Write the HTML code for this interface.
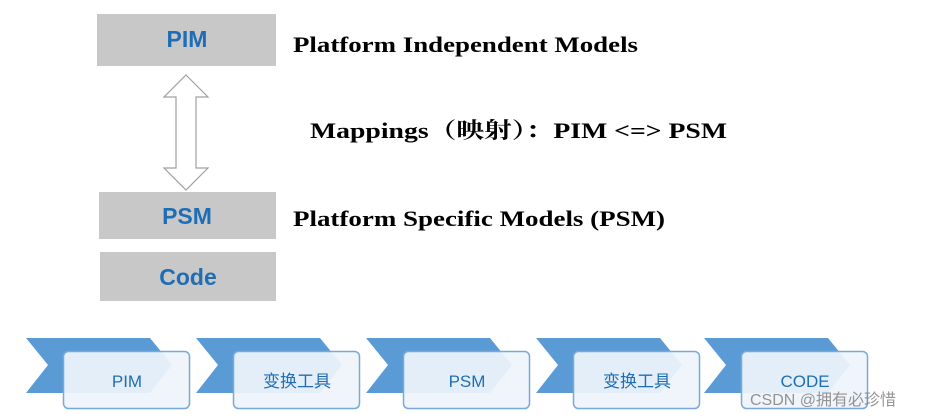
<!DOCTYPE html>
<html><head><meta charset="utf-8"><style>
html,body{margin:0;padding:0;background:#fff;width:936px;height:418px;overflow:hidden}
</style></head><body>
<svg width="936" height="418" viewBox="0 0 936 418" xmlns="http://www.w3.org/2000/svg">
<rect x="97" y="14" width="179" height="52" fill="#c8c8c8"/>
<rect x="99" y="192" width="177" height="47" fill="#c8c8c8"/>
<rect x="100" y="252" width="176" height="49" fill="#c8c8c8"/>
<g font-family="Liberation Sans, sans-serif" font-weight="bold" font-size="23" fill="#1f6eb5" text-anchor="middle">
<text x="187" y="47">PIM</text>
<text x="187" y="224">PSM</text>
<text x="188" y="285">Code</text>
</g>
<polygon points="186,75 208,97 196,97 196,168 208,168 186,190 164,168 176,168 176,97 164,97" fill="#fff" stroke="#a0a0a0" stroke-width="1.2"/>
<g font-family="Liberation Serif, 'Noto Serif CJK SC', serif" font-weight="bold" font-size="22" fill="#000">
<text x="293" y="52" textLength="345" lengthAdjust="spacingAndGlyphs">Platform Independent Models</text>
<text x="310" y="138" textLength="417" lengthAdjust="spacingAndGlyphs">Mappings（映射）：PIM &lt;=&gt; PSM</text>
<text x="293" y="226" textLength="372" lengthAdjust="spacingAndGlyphs">Platform Specific Models (PSM)</text>
</g>
<g font-family="Liberation Sans, 'Noto Sans CJK SC', sans-serif" font-size="17" fill="#1f6eb5" text-anchor="middle">
<g transform="translate(0,0)">
<polygon points="26,338 150,338 172,365 150,393 26,393 48,365" fill="#5b9bd5"/>
<rect x="63.5" y="351.5" width="126" height="57" rx="5" fill="#eef4fb" fill-opacity="0.93" stroke="#79a9dc" stroke-width="1.5"/>
<text x="127" y="387">PIM</text>
</g>
<g transform="translate(170,0)">
<polygon points="26,338 150,338 172,365 150,393 26,393 48,365" fill="#5b9bd5"/>
<rect x="63.5" y="351.5" width="126" height="57" rx="5" fill="#eef4fb" fill-opacity="0.93" stroke="#79a9dc" stroke-width="1.5"/>
<text x="127" y="387">变换工具</text>
</g>
<g transform="translate(340,0)">
<polygon points="26,338 150,338 172,365 150,393 26,393 48,365" fill="#5b9bd5"/>
<rect x="63.5" y="351.5" width="126" height="57" rx="5" fill="#eef4fb" fill-opacity="0.93" stroke="#79a9dc" stroke-width="1.5"/>
<text x="127" y="387">PSM</text>
</g>
<g transform="translate(510,0)">
<polygon points="26,338 150,338 172,365 150,393 26,393 48,365" fill="#5b9bd5"/>
<rect x="63.5" y="351.5" width="126" height="57" rx="5" fill="#eef4fb" fill-opacity="0.93" stroke="#79a9dc" stroke-width="1.5"/>
<text x="127" y="387">变换工具</text>
</g>
<g transform="translate(678,0)">
<polygon points="26,338 150,338 172,365 150,393 26,393 48,365" fill="#5b9bd5"/>
<rect x="63.5" y="351.5" width="126" height="57" rx="5" fill="#eef4fb" fill-opacity="0.93" stroke="#79a9dc" stroke-width="1.5"/>
<text x="127" y="387">CODE</text>
</g>
</g>
<text x="750" y="405" font-family="Liberation Sans, 'Noto Sans CJK SC', sans-serif" font-size="16" fill="#888" fill-opacity="0.9">CSDN @拥有必珍惜</text>
</svg>
</body></html>
